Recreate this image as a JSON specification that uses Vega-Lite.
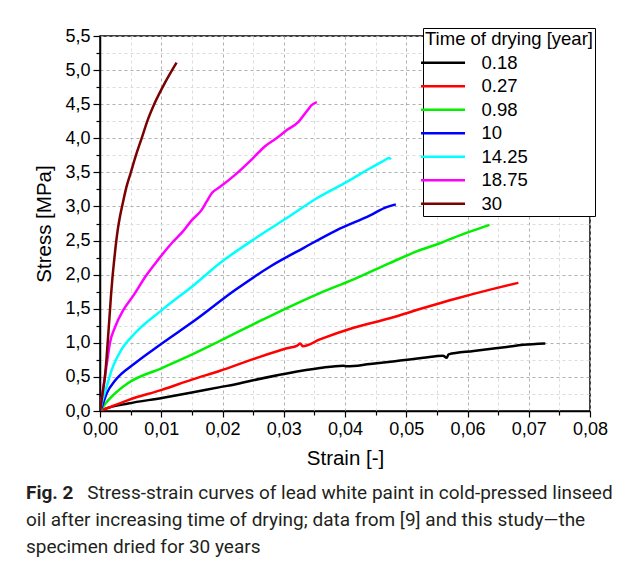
{
  "$schema": "https://vega.github.io/schema/vega-lite/v6.json",
  "width": 490,
  "height": 375,
  "autosize": "none",
  "padding": {"left": 100, "top": 36, "right": 42, "bottom": 158},
  "background": "white",
  "config": {
    "view": {"stroke": "black", "strokeWidth": 1.5},
    "font": "Liberation Sans"
  },
  "title": {
    "text": "Fig. 2",
    "subtitle": [
      "\u200b\u00a0\u00a0\u00a0\u00a0\u00a0\u00a0\u00a0\u00a0\u00a0\u00a0\u00a0\u00a0\u00a0Stress-strain curves of lead white paint in cold-pressed linseed",
      "oil after increasing time of drying; data from [9] and this study\u2014the",
      "specimen dried for 30 years"
    ],
    "orient": "bottom",
    "anchor": "start",
    "frame": "group",
    "dx": -74,
    "offset": 15,
    "font": "Roboto",
    "fontSize": 19,
    "fontWeight": "bold",
    "color": "#231f20",
    "subtitleFont": "Roboto",
    "subtitleFontSize": 19,
    "subtitleFontWeight": "normal",
    "subtitleColor": "#231f20",
    "subtitleLineHeight": 27,
    "subtitlePadding": -19
  },
  "data": {
    "values": [
      {"time": "0.18", "strain": 0, "stress": 0},
      {"time": "0.18", "strain": 0.0008, "stress": 0.03},
      {"time": "0.18", "strain": 0.0046, "stress": 0.11},
      {"time": "0.18", "strain": 0.0101, "stress": 0.19},
      {"time": "0.18", "strain": 0.015, "stress": 0.27},
      {"time": "0.18", "strain": 0.0196, "stress": 0.35},
      {"time": "0.18", "strain": 0.022, "stress": 0.39},
      {"time": "0.18", "strain": 0.025, "stress": 0.45},
      {"time": "0.18", "strain": 0.0305, "stress": 0.55},
      {"time": "0.18", "strain": 0.0359, "stress": 0.63},
      {"time": "0.18", "strain": 0.0397, "stress": 0.665},
      {"time": "0.18", "strain": 0.0403, "stress": 0.655},
      {"time": "0.18", "strain": 0.0441, "stress": 0.69},
      {"time": "0.18", "strain": 0.049, "stress": 0.74},
      {"time": "0.18", "strain": 0.0528, "stress": 0.78},
      {"time": "0.18", "strain": 0.056, "stress": 0.81},
      {"time": "0.18", "strain": 0.0566, "stress": 0.78},
      {"time": "0.18", "strain": 0.0569, "stress": 0.83},
      {"time": "0.18", "strain": 0.061, "stress": 0.88},
      {"time": "0.18", "strain": 0.0664, "stress": 0.94},
      {"time": "0.18", "strain": 0.0691, "stress": 0.97},
      {"time": "0.18", "strain": 0.0727, "stress": 0.99},

      {"time": "0.27", "strain": 0, "stress": 0},
      {"time": "0.27", "strain": 0.002, "stress": 0.07},
      {"time": "0.27", "strain": 0.0046, "stress": 0.16},
      {"time": "0.27", "strain": 0.0101, "stress": 0.31},
      {"time": "0.27", "strain": 0.015, "stress": 0.46},
      {"time": "0.27", "strain": 0.0196, "stress": 0.59},
      {"time": "0.27", "strain": 0.025, "stress": 0.76},
      {"time": "0.27", "strain": 0.0305, "stress": 0.92},
      {"time": "0.27", "strain": 0.0322, "stress": 0.96},
      {"time": "0.27", "strain": 0.0327, "stress": 0.99},
      {"time": "0.27", "strain": 0.0331, "stress": 0.95},
      {"time": "0.27", "strain": 0.0359, "stress": 1.05},
      {"time": "0.27", "strain": 0.0414, "stress": 1.22},
      {"time": "0.27", "strain": 0.0473, "stress": 1.36},
      {"time": "0.27", "strain": 0.0528, "stress": 1.51},
      {"time": "0.27", "strain": 0.0582, "stress": 1.65},
      {"time": "0.27", "strain": 0.0637, "stress": 1.78},
      {"time": "0.27", "strain": 0.0683, "stress": 1.88},

      {"time": "0.98", "strain": 0, "stress": 0},
      {"time": "0.98", "strain": 0.0008, "stress": 0.1},
      {"time": "0.98", "strain": 0.0019, "stress": 0.21},
      {"time": "0.98", "strain": 0.0046, "stress": 0.41},
      {"time": "0.98", "strain": 0.0101, "stress": 0.63},
      {"time": "0.98", "strain": 0.0155, "stress": 0.85},
      {"time": "0.98", "strain": 0.0196, "stress": 1.03},
      {"time": "0.98", "strain": 0.025, "stress": 1.27},
      {"time": "0.98", "strain": 0.0305, "stress": 1.51},
      {"time": "0.98", "strain": 0.0359, "stress": 1.73},
      {"time": "0.98", "strain": 0.0414, "stress": 1.93},
      {"time": "0.98", "strain": 0.0473, "stress": 2.17},
      {"time": "0.98", "strain": 0.0517, "stress": 2.34},
      {"time": "0.98", "strain": 0.0555, "stress": 2.46},
      {"time": "0.98", "strain": 0.0577, "stress": 2.54},
      {"time": "0.98", "strain": 0.0604, "stress": 2.63},
      {"time": "0.98", "strain": 0.0636, "stress": 2.73},

      {"time": "10", "strain": 0, "stress": 0},
      {"time": "10", "strain": 0.0003, "stress": 0.06},
      {"time": "10", "strain": 0.0011, "stress": 0.26},
      {"time": "10", "strain": 0.0025, "stress": 0.45},
      {"time": "10", "strain": 0.0057, "stress": 0.7},
      {"time": "10", "strain": 0.0101, "stress": 0.99},
      {"time": "10", "strain": 0.0155, "stress": 1.33},
      {"time": "10", "strain": 0.022, "stress": 1.77},
      {"time": "10", "strain": 0.0278, "stress": 2.12},
      {"time": "10", "strain": 0.0332, "stress": 2.39},
      {"time": "10", "strain": 0.0386, "stress": 2.65},
      {"time": "10", "strain": 0.0441, "stress": 2.87},
      {"time": "10", "strain": 0.0468, "stress": 2.99},
      {"time": "10", "strain": 0.0483, "stress": 3.03},

      {"time": "14.25", "strain": 0, "stress": 0},
      {"time": "14.25", "strain": 0.0003, "stress": 0.12},
      {"time": "14.25", "strain": 0.0011, "stress": 0.36},
      {"time": "14.25", "strain": 0.0019, "stress": 0.6},
      {"time": "14.25", "strain": 0.0035, "stress": 0.9},
      {"time": "14.25", "strain": 0.0057, "stress": 1.14},
      {"time": "14.25", "strain": 0.0101, "stress": 1.48},
      {"time": "14.25", "strain": 0.0155, "stress": 1.86},
      {"time": "14.25", "strain": 0.0196, "stress": 2.17},
      {"time": "14.25", "strain": 0.025, "stress": 2.51},
      {"time": "14.25", "strain": 0.0305, "stress": 2.83},
      {"time": "14.25", "strain": 0.0354, "stress": 3.12},
      {"time": "14.25", "strain": 0.0403, "stress": 3.36},
      {"time": "14.25", "strain": 0.0441, "stress": 3.56},
      {"time": "14.25", "strain": 0.0463, "stress": 3.67},
      {"time": "14.25", "strain": 0.0472, "stress": 3.71},
      {"time": "14.25", "strain": 0.0475, "stress": 3.69},

      {"time": "18.75", "strain": 0, "stress": 0},
      {"time": "18.75", "strain": 0.0003, "stress": 0.2},
      {"time": "18.75", "strain": 0.0008, "stress": 0.5},
      {"time": "18.75", "strain": 0.0012, "stress": 0.75},
      {"time": "18.75", "strain": 0.0016, "stress": 0.99},
      {"time": "18.75", "strain": 0.0025, "stress": 1.24},
      {"time": "18.75", "strain": 0.0038, "stress": 1.48},
      {"time": "18.75", "strain": 0.0055, "stress": 1.7},
      {"time": "18.75", "strain": 0.0074, "stress": 1.97},
      {"time": "18.75", "strain": 0.0095, "stress": 2.22},
      {"time": "18.75", "strain": 0.0117, "stress": 2.46},
      {"time": "18.75", "strain": 0.0135, "stress": 2.63},
      {"time": "18.75", "strain": 0.015, "stress": 2.8},
      {"time": "18.75", "strain": 0.0166, "stress": 2.95},
      {"time": "18.75", "strain": 0.0174, "stress": 3.07},
      {"time": "18.75", "strain": 0.0183, "stress": 3.2},
      {"time": "18.75", "strain": 0.0195, "stress": 3.28},
      {"time": "18.75", "strain": 0.022, "stress": 3.46},
      {"time": "18.75", "strain": 0.025, "stress": 3.71},
      {"time": "18.75", "strain": 0.0269, "stress": 3.88},
      {"time": "18.75", "strain": 0.0288, "stress": 4.0},
      {"time": "18.75", "strain": 0.0305, "stress": 4.12},
      {"time": "18.75", "strain": 0.0324, "stress": 4.24},
      {"time": "18.75", "strain": 0.0337, "stress": 4.39},
      {"time": "18.75", "strain": 0.0346, "stress": 4.49},
      {"time": "18.75", "strain": 0.0354, "stress": 4.53},

      {"time": "30", "strain": 0, "stress": 0},
      {"time": "30", "strain": 0.0002, "stress": 0.12},
      {"time": "30", "strain": 0.0004, "stress": 0.25},
      {"time": "30", "strain": 0.0008, "stress": 0.5},
      {"time": "30", "strain": 0.00105, "stress": 0.75},
      {"time": "30", "strain": 0.00125, "stress": 1.0},
      {"time": "30", "strain": 0.00145, "stress": 1.25},
      {"time": "30", "strain": 0.00163, "stress": 1.48},
      {"time": "30", "strain": 0.0018, "stress": 1.7},
      {"time": "30", "strain": 0.002, "stress": 1.92},
      {"time": "30", "strain": 0.0023, "stress": 2.2},
      {"time": "30", "strain": 0.00256, "stress": 2.42},
      {"time": "30", "strain": 0.0029, "stress": 2.66},
      {"time": "30", "strain": 0.0033, "stress": 2.87},
      {"time": "30", "strain": 0.0037, "stress": 3.04},
      {"time": "30", "strain": 0.0043, "stress": 3.28},
      {"time": "30", "strain": 0.005, "stress": 3.49},
      {"time": "30", "strain": 0.0059, "stress": 3.76},
      {"time": "30", "strain": 0.0068, "stress": 4.0},
      {"time": "30", "strain": 0.0078, "stress": 4.27},
      {"time": "30", "strain": 0.0089, "stress": 4.51},
      {"time": "30", "strain": 0.0107, "stress": 4.83},
      {"time": "30", "strain": 0.0125, "stress": 5.11}
    ]
  },
  "mark": {"type": "line", "strokeWidth": 2.5, "clip": true, "interpolate": "monotone"},
  "encoding": {
    "x": {
      "field": "strain",
      "type": "quantitative",
      "scale": {"domain": [0, 0.08], "nice": false, "zero": false},
      "axis": {
        "title": "Strain [-]",
        "titleFont": "Liberation Sans",
        "titleFontSize": 20.5,
        "titleFontWeight": "normal",
        "titleColor": "black",
        "titlePadding": 10,
        "values": [0, 0.005, 0.01, 0.015, 0.02, 0.025, 0.03, 0.035, 0.04, 0.045, 0.05, 0.055, 0.06, 0.065, 0.07, 0.075, 0.08],
        "labelExpr": "round(datum.value*1000) % 10 === 0 ? replace(format(datum.value, '.2f'), '.', ',') : ''",
        "labelFont": "Liberation Sans",
        "labelFontSize": 18,
        "labelColor": "black",
        "labelPadding": 3,
        "labelFlush": false,
        "labelOverlap": false,
        "labelBound": false,
        "domainColor": "black",
        "domainWidth": 1.5,
        "tickColor": "black",
        "tickWidth": 1.2,
        "tickSize": {"condition": {"test": "round(datum.value*1000) % 10 === 0", "value": 6}, "value": 4},
        "grid": true,
        "gridColor": {"condition": {"test": "round(datum.value*1000) % 10 === 0", "value": "#b0b0b0"}, "value": "#dcdcdc"},
        "gridDash": [3, 3],
        "gridWidth": 1
      }
    },
    "y": {
      "field": "stress",
      "type": "quantitative",
      "scale": {"domain": [0, 5.5], "nice": false},
      "axis": {
        "title": "Stress [MPa]",
        "titleFont": "Liberation Sans",
        "titleFontSize": 20.5,
        "titleFontWeight": "normal",
        "titleColor": "black",
        "titlePadding": 10,
        "values": [0, 0.25, 0.5, 0.75, 1, 1.25, 1.5, 1.75, 2, 2.25, 2.5, 2.75, 3, 3.25, 3.5, 3.75, 4, 4.25, 4.5, 4.75, 5, 5.25, 5.5],
        "labelExpr": "round(datum.value*100) % 50 === 0 ? replace(format(datum.value, '.1f'), '.', ',') : ''",
        "labelFont": "Liberation Sans",
        "labelFontSize": 18,
        "labelColor": "black",
        "labelPadding": 3,
        "labelFlush": false,
        "labelOverlap": false,
        "labelBound": false,
        "domainColor": "black",
        "domainWidth": 1.5,
        "tickColor": "black",
        "tickWidth": 1.2,
        "tickSize": {"condition": {"test": "round(datum.value*100) % 50 === 0", "value": 7}, "value": 4},
        "grid": true,
        "gridColor": {"condition": {"test": "round(datum.value*100) % 50 === 0", "value": "#b0b0b0"}, "value": "#dcdcdc"},
        "gridDash": [3, 3],
        "gridWidth": 1
      }
    },
    "color": {
      "field": "time",
      "type": "nominal",
      "scale": {
        "domain": ["0.18", "0.27", "0.98", "10", "14.25", "18.75", "30"],
        "range": ["#000000", "#ff0000", "#00f000", "#0000ff", "#00ffff", "#ff00ff", "#7b0000"]
      },
      "legend": {
        "title": "Time of drying [year]",
        "orient": "none",
        "legendX": 323,
        "legendY": -8,
        "titleFont": "Liberation Sans",
        "titleFontSize": 18.5,
        "titleFontWeight": "normal",
        "titleColor": "black",
        "titlePadding": 5,
        "labelFont": "Liberation Sans",
        "labelFontSize": 18.5,
        "labelColor": "black",
        "symbolType": "M-2.4,0H5.6",
        "symbolSize": 121,
        "symbolStrokeWidth": 2.5,
        "labelOffset": 38,
        "rowPadding": 4.5,
        "padding": 2,
        "strokeColor": "black",
        "fillColor": "white"
      }
    }
  }
}
